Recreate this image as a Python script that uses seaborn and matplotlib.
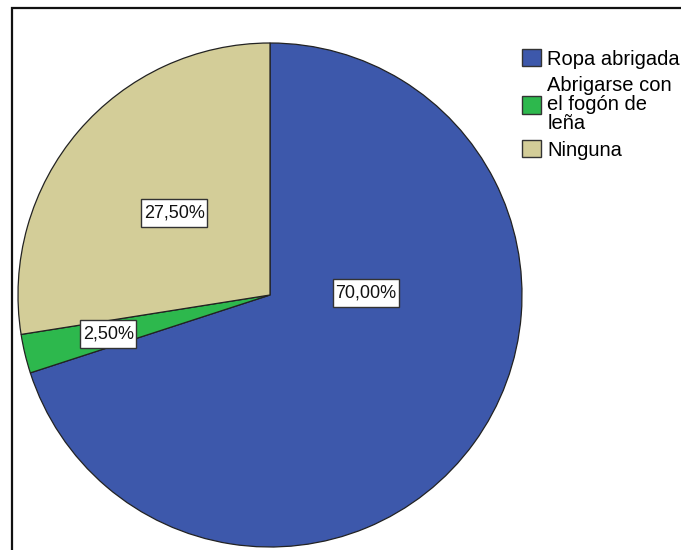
import textwrap
import numpy as np
import matplotlib
matplotlib.use("Agg")
import matplotlib.pyplot as plt
from matplotlib.patches import Rectangle
import seaborn as sns

# Respuestas: medida contra el frío
categories = ["Ropa abrigada", "Abrigarse con el fogón de leña", "Ninguna"]
percentages = [70.00, 2.50, 27.50]
colors = ["#3d58ab", "#2db84d", "#d3cd98"]

sns.set_theme(style="white")
plt.rcParams["font.family"] = ["Liberation Sans", "DejaVu Sans"]
plt.rcParams["text.color"] = "black"

W, H = 681, 550
fig = plt.figure(figsize=(W / 100, H / 100), dpi=100)

# pie centred at (270, 295) px with radius 252 px
cx, cy, r = 270, 295, 252
ax = fig.add_axes([(cx - r) / W, (H - cy - r) / H, 2 * r / W, 2 * r / H])

wedges, _ = ax.pie(
    percentages,
    colors=colors,
    startangle=90,
    counterclock=False,
    radius=1.0,
    wedgeprops=dict(edgecolor="#222222", linewidth=0.9),
)
ax.set_xlim(-1, 1)
ax.set_ylim(-1, 1)
ax.set_aspect("equal")
ax.axis("off")

# percentage labels in white boxes
label_dist = [0.38, 0.66, 0.50]
angle_shift = [37.0, 0.0, 0.0]
for w, pct, d, sh in zip(wedges, percentages, label_dist, angle_shift):
    mid = np.deg2rad((w.theta1 + w.theta2) / 2 + sh)
    txt = f"{pct:.2f}%".replace(".", ",")
    t = ax.text(d * np.cos(mid), d * np.sin(mid), txt, ha="center", va="center",
                fontsize=13, color="#111111",
                bbox=dict(boxstyle="square,pad=0.14", facecolor="white",
                          edgecolor="#333333", linewidth=1.0))
    t.get_bbox_patch().set_mutation_aspect(2.2)

# legend
legend_labels = [textwrap.fill(c, 13) for c in categories]
leg = fig.legend(
    wedges, legend_labels,
    loc="upper left", bbox_to_anchor=(522 / W, 1 - 49 / H),
    frameon=False, fontsize=14.5, handlelength=0.95, handleheight=0.95,
    handletextpad=0.3, labelspacing=0.36, borderpad=0, borderaxespad=0,
)
for t in leg.get_texts():
    t.set_linespacing(1.0)
    t.set_color("black")
for h in leg.legend_handles:
    h.set_edgecolor("#333333")
    h.set_linewidth(1.0)

# outer frame (left and top edges visible)
fig.patches.append(Rectangle((11.5 / W, -0.05), 1.2, 1.05 - 7.5 / H,
                             transform=fig.transFigure, fill=False,
                             edgecolor="#111111", linewidth=1.6))

fig.savefig("out.png", dpi=100)
